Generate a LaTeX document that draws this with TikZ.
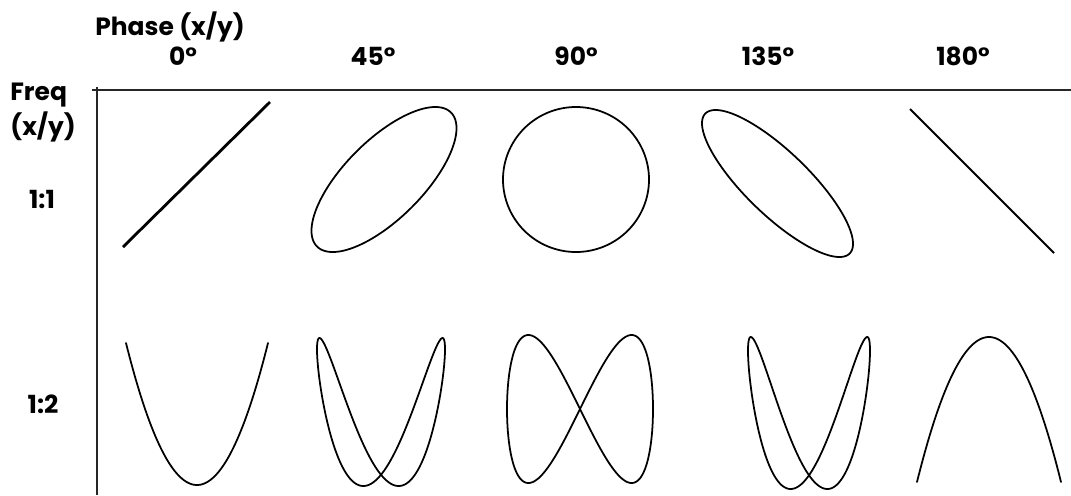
\documentclass[tikz,border=0pt]{standalone}
\usepackage{fontspec}
\setmainfont{Poppins}
\usetikzlibrary{positioning}

\begin{document}
\begin{tikzpicture}[
  x=0.02cm,
  y=-0.02cm,
  font=\fontsize{14.2}{16}\selectfont\bfseries,
  axis/.style={draw=black!85, line width=1.1pt},
  curve/.style={draw=black, line width=1pt, line join=round},
  label/.style={inner sep=0pt, anchor=base}
]
  \useasboundingbox (0,0) rectangle (1071,495);
  \draw[axis] (92,90) -- (1071,90);
  \draw[axis] (97,87) -- (97,495);

  \node[label, anchor=base west] (phase) at (95,35) {Phase (x/y)};
  \foreach \x/\p in {183/0,373/45,576/90,768/135,963/180}
    \node[label] (ph\p) at (\x,65) {\p°};

  \node[label, anchor=base west] (freq) at (10,100) {Freq};
  \node[label, anchor=base west] (fxy) at (10,135) {(x/y)};
  \node[label] (f11) at (42,208) {1:1};
  \node[label] (f12) at (43,413) {1:2};

  % ratio 1:1
  \draw[curve, line width=1.6pt] (123,247) -- (270,102);
  \foreach \cx/\cy/\a/\b/\ph in {384/179.5/72.5/72.5/45,576/179.5/73/72.5/90,777.5/183.5/75.5/73.5/145}
    \draw[curve] plot[domain=0:360, samples=241, variable=\t]
      ({\cx+\a*sin(\t)}, {\cy-\b*sin(\t+\ph)}) -- cycle;
  \draw[curve, line width=1.2pt] (910,109) -- (1054,253);

  % ratio 1:2
  \foreach \cx/\cy/\a/\b/\ph in {197/414/71/71/0,381/412/64/74/32,580/409/73/74/90,809/413/61/76/35,989/409.5/72/72.5/180}
    \draw[curve] plot[domain=0:360, samples=241, variable=\t]
      ({\cx+\a*sin(\t)}, {\cy+\b*cos(2*\t+\ph)});
\end{tikzpicture}
\end{document}
